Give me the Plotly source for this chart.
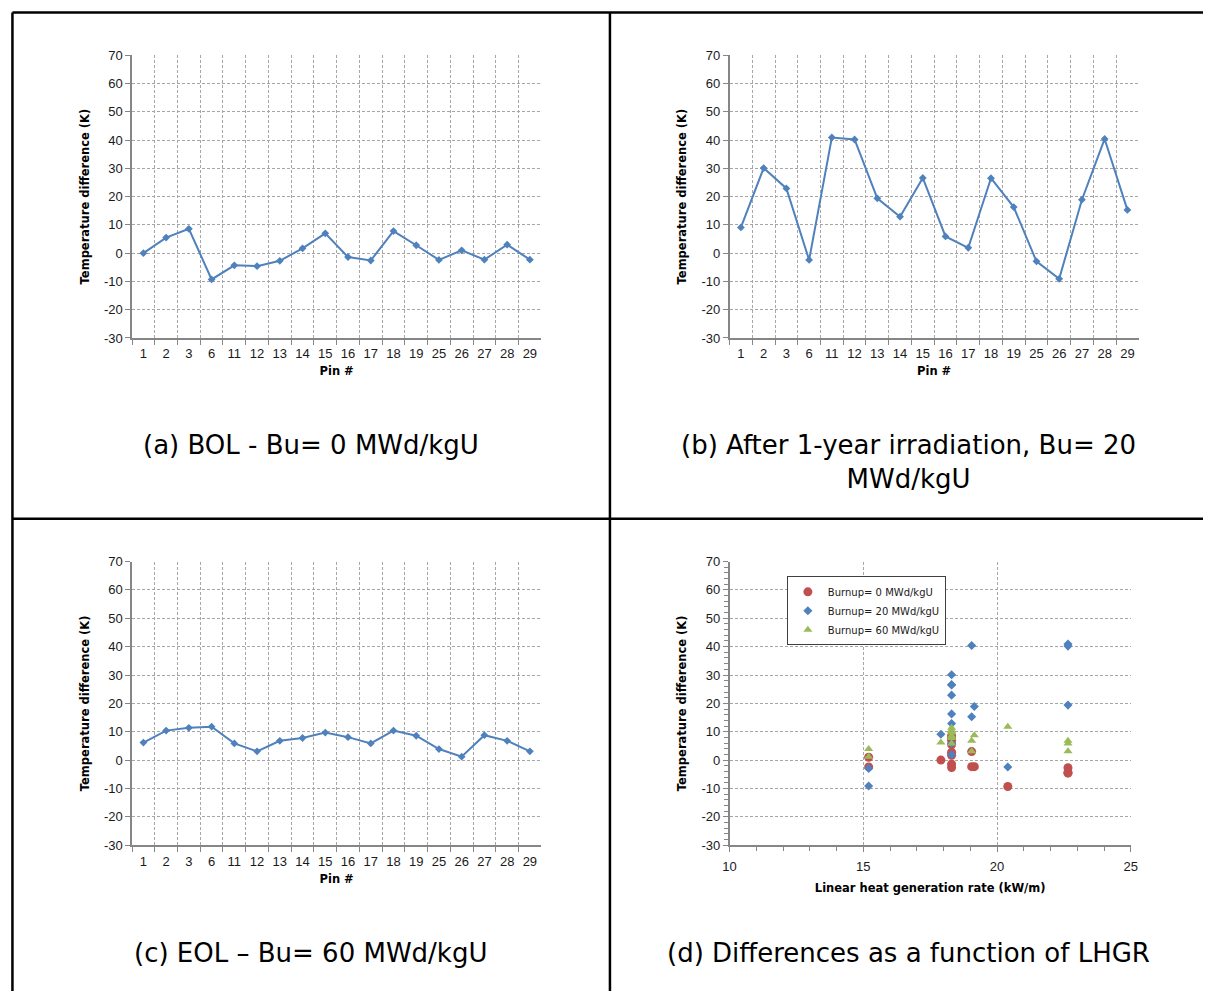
import plotly.graph_objects as go

# Pin identifiers (categorical x axis for panels a-c)
pins = ["1", "2", "3", "6", "11", "12", "13", "14", "15", "16", "17", "18", "19", "25", "26", "27", "28", "29"]

# Temperature difference (K) per pin
diff_bol = [0.0, 5.5, 8.6, -9.3, -4.3, -4.6, -2.7, 1.7, 7.0, -1.4, -2.6, 7.8, 2.8, -2.4, 1.0, -2.3, 3.0, -2.3]
diff_bu20 = [9.1, 30.1, 22.9, -2.4, 40.9, 40.2, 19.4, 12.9, 26.6, 5.9, 1.9, 26.5, 16.3, -2.9, -9.1, 18.9, 40.4, 15.3]
diff_eol = [6.2, 10.4, 11.4, 11.8, 5.9, 3.1, 6.8, 7.8, 9.7, 8.1, 5.9, 10.4, 8.6, 3.9, 1.2, 8.8, 6.8, 3.1]

# Linear heat generation rate (kW/m) per pin
lhgr = [17.9, 18.3, 18.3, 20.4, 22.65, 22.65, 22.65, 18.3, 18.3, 18.3, 18.3, 18.3, 18.3, 15.2, 15.2, 19.15, 19.05, 19.05]

# y-axis ticks, labelled with a plain hyphen for negatives
y_ticks = [-30, -20, -10, 0, 10, 20, 30, 40, 50, 60, 70]
y_tick_text = [str(v) for v in y_ticks]

captions = [
    "(a) BOL - Bu= 0 MWd/kgU",
    "(b) After 1-year irradiation, Bu= 20<br>MWd/kgU",
    "(c) EOL \u2013 Bu= 60 MWd/kgU",
    "(d) Differences as a function of LHGR",
]

W, H = 1210, 999

CAP_FONT = "DejaVu Sans, Arial, sans-serif"
TICK_FONT = "Liberation Sans, Arial, sans-serif"
BLUE = "#4F81BD"
RED = "#C0504D"
GREEN = "#9BBB59"
AXIS = "#868686"
GRID = "#a6a6a6"
TXT = "#1a1a1a"


def px_x(p):
    return p / W


def px_y(p):
    return 1 - p / H


# plot-area rectangles in pixels: (left, right, top, bottom)
areas = [
    (126.5, 540.5, 49, 336),
    (731, 1145, 49, 336),
    (126.5, 540.5, 563, 851),
    (731, 1137, 563, 851),
]

fig = go.Figure()

series = [diff_bol, diff_bu20, diff_eol]
for i, ys in enumerate(series):
    fig.add_trace(go.Scatter(
        x=pins, y=ys, mode="lines+markers",
        line=dict(color=BLUE, width=2),
        marker=dict(symbol="diamond", size=6, color=BLUE),
        xaxis=f"x{i + 1}" if i else "x", yaxis=f"y{i + 1}" if i else "y",
        showlegend=False,
    ))

fig.add_trace(go.Scatter(
    x=lhgr, y=diff_bol, mode="markers", name="Burnup= 0 MWd/kgU",
    marker=dict(symbol="circle", size=9, color=RED),
    xaxis="x4", yaxis="y4",
))
fig.add_trace(go.Scatter(
    x=lhgr, y=diff_bu20, mode="markers", name="Burnup= 20 MWd/kgU",
    marker=dict(symbol="diamond", size=7, color=BLUE),
    xaxis="x4", yaxis="y4",
))
fig.add_trace(go.Scatter(
    x=lhgr, y=diff_eol, mode="markers", name="Burnup= 60 MWd/kgU",
    marker=dict(symbol="triangle-up", size=8, color=GREEN),
    xaxis="x4", yaxis="y4",
))

layout = dict(
    width=W, height=H,
    margin=dict(l=0, r=0, t=0, b=0),
    paper_bgcolor="white", plot_bgcolor="white",
    font=dict(family=TICK_FONT, color=TXT, size=12),
    showlegend=True,
    legend=dict(
        x=px_x(789), y=px_y(578), xanchor="left", yanchor="top",
        bgcolor="white", bordercolor="#404040", borderwidth=1,
        font=dict(size=10, family=CAP_FONT, color=TXT),
        tracegroupgap=0, itemsizing="trace", itemwidth=30,
    ),
)


def bold_title(text, standoff):
    return dict(text=f"<b>{text}</b>", font=dict(size=11.5, family=CAP_FONT, color="#000"), standoff=standoff)


for i, (l, r, t, b) in enumerate(areas):
    xa = "xaxis" if i == 0 else f"xaxis{i + 1}"
    ya = "yaxis" if i == 0 else f"yaxis{i + 1}"
    anchor_x = "y" if i == 0 else f"y{i + 1}"
    anchor_y = "x" if i == 0 else f"x{i + 1}"
    common = dict(
        showline=True, linecolor=AXIS, linewidth=1.5,
        ticks="outside", ticklen=5, tickcolor=AXIS, tickwidth=1,
        showgrid=True, gridcolor=GRID, gridwidth=1, griddash="3px,2px",
        zeroline=False, tickfont=dict(size=13, family=TICK_FONT, color=TXT),
        fixedrange=True,
    )
    yax = dict(common, domain=[px_y(b), px_y(t)], anchor=anchor_y,
               range=[-30, 70], tickmode="array", tickvals=y_ticks, ticktext=y_tick_text,
               title=bold_title("Temperature difference (K)", 12))
    if i < 3:
        xax = dict(common, domain=[px_x(l), px_x(r)], anchor=anchor_x,
                   type="category", categoryorder="array", categoryarray=pins,
                   range=[-0.5, len(pins) - 0.5], tickson="boundaries",
                   tickangle=0, ticklabelstandoff=3,
                   title=bold_title("Pin #", 7))
    else:
        xax = dict(common, domain=[px_x(l), px_x(r)], anchor=anchor_x,
                   range=[10, 25], dtick=5, tick0=10, tickangle=0, ticklabelstandoff=3,
                   minor=dict(dtick=1, ticks="outside", ticklen=4, tickcolor=AXIS, showgrid=False),
                   title=bold_title("Linear heat generation rate (kW/m)", 11))
        yax["minor"] = dict(dtick=2, ticks="outside", ticklen=4, tickcolor=AXIS, showgrid=False)
    layout[xa] = xax
    layout[ya] = yax

fig.update_layout(**layout)

# caption text under each panel (top edge of text box, px)
cap_pos = [(307.5, 427), (912, 427), (307.5, 943), (912, 943)]
for (cx, cy), text in zip(cap_pos, captions):
    fig.add_annotation(
        x=px_x(cx), y=px_y(cy), xref="paper", yref="paper",
        xanchor="center", yanchor="top", showarrow=False,
        text=text, align="center",
        font=dict(size=26, family=CAP_FONT, color="#000"),
    )

# table frame around the four panels
frame = dict(color="black", width=2.5)
fig.add_shape(type="line", xref="paper", yref="paper", x0=px_x(5.5), x1=1, y0=px_y(5.5), y1=px_y(5.5), line=frame)
fig.add_shape(type="line", xref="paper", yref="paper", x0=px_x(5.5), x1=px_x(5.5), y0=px_y(5.5), y1=0, line=frame)
fig.add_shape(type="line", xref="paper", yref="paper", x0=px_x(610), x1=px_x(610), y0=px_y(5.5), y1=0, line=frame)
fig.add_shape(type="line", xref="paper", yref="paper", x0=px_x(5.5), x1=1, y0=px_y(519.5), y1=px_y(519.5), line=frame)

fig.write_html("out.html")
